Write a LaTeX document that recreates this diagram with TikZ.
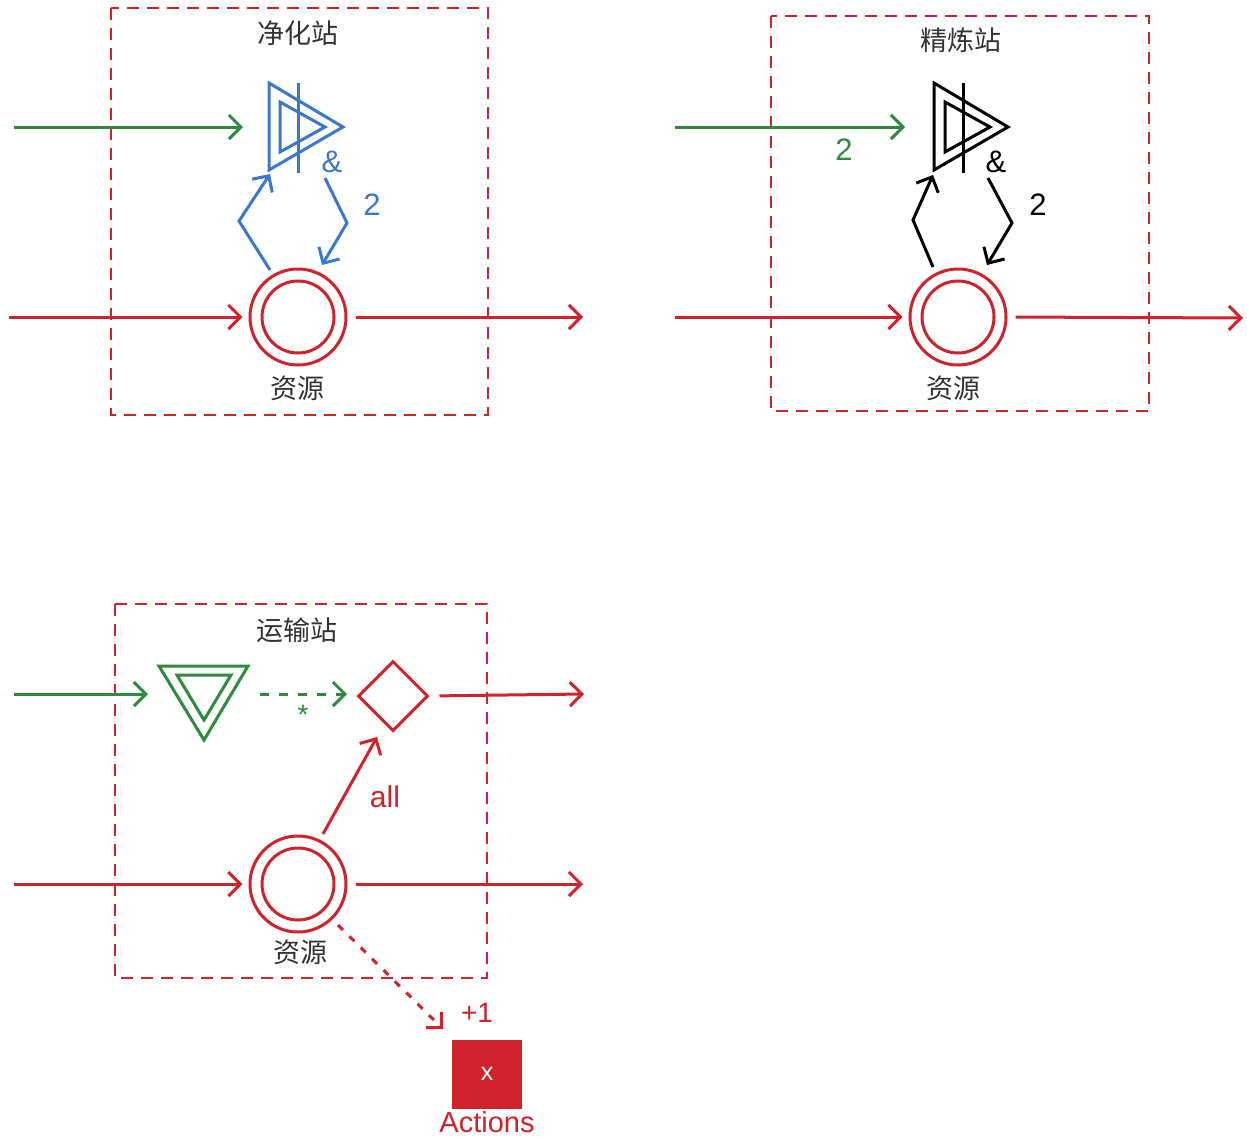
\documentclass[tikz,border=0pt]{standalone}
\usepackage{fontspec}
\setmainfont{Liberation Sans}
\newfontfamily\cjk{Noto Sans CJK SC}
\usetikzlibrary{arrows.meta,shapes.geometric}
\definecolor{cred}{HTML}{D0222A}
\definecolor{cgreen}{HTML}{2F8A3C}
\definecolor{cblue}{HTML}{3A78D0}
\definecolor{ctext}{HTML}{333333}
\tikzset{
  tip/.style={-{Straight Barb[length=12pt,width=24pt]}},
  conn/.style={line width=3pt, tip},
  dashbox/.style={draw=cred, line width=2pt, dash pattern=on 12pt off 8pt},
  cjklabel/.style={font=\cjk\fontsize{27}{30}\selectfont, text=ctext, inner sep=0pt},
  numlabel/.style={font=\fontsize{31}{33}\selectfont, inner sep=0pt},
  resource/.style={draw=cred, circle, line width=3pt, minimum size=96pt, inner sep=0pt},
  gate/.pic={
    \draw[line width=3pt, line join=miter] (-29,-44) -- (45,0) -- (-29,43) -- cycle;
    \draw[line width=3pt, line join=miter] (-18,-25) -- (27,0) -- (-18,25) -- cycle;
    \draw[line width=3pt] (0,-44) -- (0,46);
  }
}
\begin{document}
\begin{tikzpicture}[x=1pt,y=-1pt]
\useasboundingbox[fill=white] (0,0) rectangle (1247,1138);

% ---------------- Panel 1: 净化站 ----------------
\draw[dashbox] (111,8) rectangle (488,415);
\node[cjklabel] (title1) at (298,33) {净化站};
\pic[cblue] at (298,127) {gate};
\coordinate (g1s) at (14,127);
\coordinate (g1e) at (243,127);
\draw[conn, cgreen] (g1s) -- (g1e);
\node[resource] (r1) at (298,317) {};
\draw[cred, line width=3pt] (r1.center) circle[radius=36];
\node[cjklabel] (lab1) at (297,388) {资源};
\coordinate (r1in) at (9,317);
\coordinate (r1out) at (583,317);
\draw[conn, cred, shorten >=6pt] (r1in) -- (r1.west);
\draw[conn, cred, shorten <=8pt] (r1.east) -- (r1out);
\coordinate (b1a) at (270,270);
\coordinate (b1m) at (239,221);
\coordinate (b1e) at (270,174);
\coordinate (b1b) at (325,178);
\coordinate (b1n) at (347,223);
\coordinate (b1f) at (322,265);
\draw[conn, cblue] (b1a) -- (b1m) -- (b1e);
\draw[conn, cblue] (b1b) -- (b1n) -- (b1f);
\node[numlabel, text=cblue] (amp1) at (332,162) {\&};
\node[numlabel, text=cblue] (n1) at (372,205) {2};

% ---------------- Panel 2: 精炼站 ----------------
\draw[dashbox] (771,16) rectangle (1149,411);
\node[cjklabel] (title2) at (961,40) {精炼站};
\pic[black] at (963,127) {gate};
\coordinate (g2s) at (675,127);
\coordinate (g2e) at (905,127);
\draw[conn, cgreen] (g2s) -- (g2e);
\node[numlabel, text=cgreen] (n2g) at (844,150) {2};
\node[resource] (r2) at (958,317) {};
\draw[cred, line width=3pt] (r2.center) circle[radius=36];
\node[cjklabel] (lab2) at (953,388) {资源};
\coordinate (r2in) at (675,317);
\coordinate (r2out) at (1243,318);
\draw[conn, cred, shorten >=6pt] (r2in) -- (r2.west);
\draw[conn, cred, shorten <=8pt] (r2.east) -- (r2out);
\coordinate (b2a) at (933,267);
\coordinate (b2m) at (913,220);
\coordinate (b2e) at (933,175);
\coordinate (b2b) at (988,178);
\coordinate (b2n) at (1012,223);
\coordinate (b2f) at (987,265);
\draw[conn, black] (b2a) -- (b2m) -- (b2e);
\draw[conn, black] (b2b) -- (b2n) -- (b2f);
\node[numlabel, text=black] (amp2) at (996,162) {\&};
\node[numlabel, text=black] (n2) at (1038,205) {2};

% ---------------- Panel 3: 运输站 ----------------
\draw[dashbox] (115,604) rectangle (487,978);
\node[cjklabel] (title3) at (297,630) {运输站};
\coordinate (g3s) at (14,694);
\coordinate (g3e) at (148,694);
\draw[conn, cgreen] (g3s) -- (g3e);
\draw[cgreen, line width=3pt, line join=miter] (159,666) -- (248,666) -- (204,740) -- cycle;
\draw[cgreen, line width=3pt, line join=miter] (177,675) -- (231,675) -- (204,720) -- cycle;
\node[draw=cred, diamond, line width=3pt, minimum width=70pt, minimum height=70pt, inner sep=0pt, aspect=1] (gate3) at (393,696) {};
\coordinate (d3s) at (260,694);
\coordinate (d3e) at (347,694);
\draw[conn, cgreen, dash pattern=on 9pt off 10pt] (d3s) -- (d3e);
\node[numlabel, text=cgreen, font=\fontsize{28}{30}\selectfont] (star) at (303,715) {*};
\coordinate (d3out) at (584,694);
\draw[conn, cred, shorten <=10pt] (gate3.east) -- (d3out);
\node[resource] (r3) at (298,884) {};
\draw[cred, line width=3pt] (r3.center) circle[radius=36];
\node[cjklabel] (lab3) at (300,952) {资源};
\coordinate (r3in) at (14,884);
\coordinate (r3out) at (583,884);
\draw[conn, cred, shorten >=6pt] (r3in) -- (r3.west);
\draw[conn, cred, shorten <=8pt] (r3.east) -- (r3out);
\coordinate (alls) at (323,834);
\coordinate (alle) at (377,737);
\draw[conn, cred] (alls) -- (alle);
\node[numlabel, text=cred, font=\fontsize{30}{32}\selectfont] (all) at (385,797) {all};
\coordinate (dots) at (338,925);
\coordinate (dote) at (443,1029);
\draw[cred, line width=3pt, dash pattern=on 7pt off 9pt, -{Straight Barb[length=11pt,width=22pt]}] (dots) -- (dote);
\node[numlabel, text=cred, font=\fontsize{28}{30}\selectfont] (plus1) at (477,1013) {+1};
\node[fill=cred, minimum width=70pt, minimum height=69pt, inner sep=0pt, text=white, font=\fontsize{25}{27}\selectfont] (act) at (487,1074) {x};
\node[text=cred, font=\fontsize{29}{31}\selectfont, inner sep=0pt, anchor=base] (actlab) at (487,1132) {Actions};
\end{tikzpicture}
\end{document}
